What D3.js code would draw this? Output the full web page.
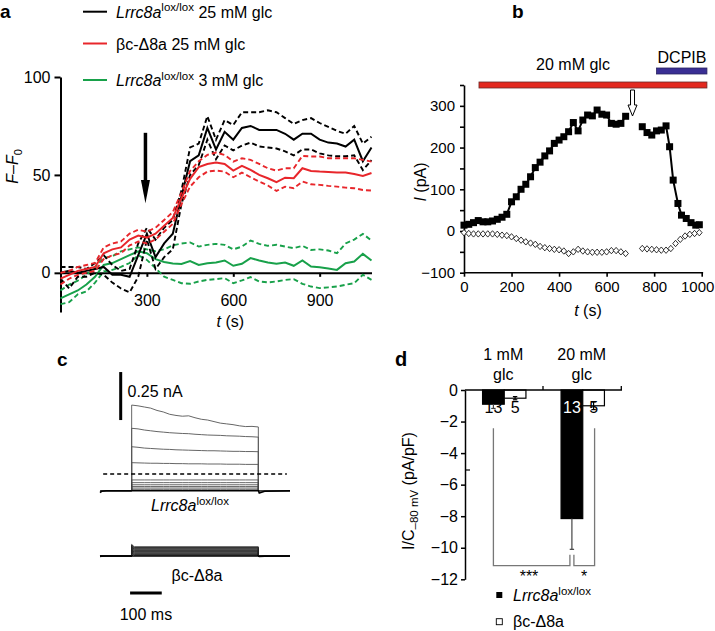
<!DOCTYPE html>
<html><head><meta charset="utf-8">
<script src="https://cdn.jsdelivr.net/npm/d3@7"></script>
<style>
body{margin:0;background:#fff}
svg text{font-family:"Liberation Sans",Arial,Helvetica,sans-serif;fill:#000}
</style></head><body>
<svg id="fig" width="715" height="631"></svg>
<script>
// ---------------- Panel a data ----------------
const timesA = [0,30,60,90,120,150,180,210,240,270,300,330,360,390,420,450,480,510,540,570,600,630,660,690,720,750,780,810,840,870,900,930,960,990,1020,1050,1080];
const blackMean = [0,1,0,1,2,3,-1,-1,-2,9,20,8,15,20,39,57,60,74,63,72,68,74,75,73,73,73,71,68,71,71,68,66.5,66,64.5,68,57,64];
const blackUpper = [3,3,3,2,5,9,4,1,2,15,23,17,23,27,42,64,66,80,68,78,75.5,82,82,82,83,82,79,76,78,79,76.5,74.5,72.5,71,75,66,69.5];
const blackLower = [-3,-8,-2,-2,0,-1,-5,-8,-10,-2,17,2,8,12,35,50,55,68,58,65,62.5,65,66.5,64.5,64,63.5,62,60,63,63,61,60,59.5,59.5,60,52.5,57.5];
const redMean = [-3,-1,1,2,3,10,12,13,17,19,18,20,24,28,38,48,54,55.6,56.3,55.6,52.2,54.6,52.6,50,48.3,46.3,48.6,48.3,53.4,52,51.7,51.5,51.2,51.2,50.5,49.5,51];
const redUpper = [0,1,3,4,5,13,15,16,20,22,21,23,27,31,41,52,57,60.2,61.4,60.2,56.8,58.5,57.7,55.6,53.4,52.2,53.4,53.4,59.7,59.4,59.4,58.5,58.5,58.5,58.5,57.7,56.8];
const redLower = [-6,-3,-1,0,1,7,9,10,14,16,15,17,21,25,35,44,48.8,51.7,52.2,51.7,48.8,51.2,48.8,46.6,44.6,41.8,44,43.2,46.6,45.2,44.9,44.4,44,43.5,43.2,42.3,42];
const greenMean = [-13,-11,-9,-6,-2,4,5,7,9,11,10,7,5.5,4.8,4.5,6,4,4.9,5.3,6.3,3.6,4.6,7.5,6.3,5.3,4.6,5.3,3.6,6.3,3.2,2.9,2.2,1.5,4.9,5.8,9.7,6.3];
const greenUpper = [-9,-6,-4,-1,3,7.5,8.5,11,12,13,12,11,12,14,15,15.5,13.4,14.3,14.8,14.3,12,13.4,16.5,14.8,13.8,14.3,13.4,12.6,13.8,11.7,12,11.4,10,15,17,19.9,16.5];
const greenLower = [-16,-15,-11,-9.5,-5,0.7,1.5,3,5,9,6.6,2.4,-2,-3.6,-5.3,-5.6,-4.4,-3.6,-3.2,-2.7,-5.3,-3.9,-2.2,-4.4,-4.9,-4.4,-3.6,-3.2,-5.6,-7,-7.8,-7.4,-7,-6.1,-5.3,-1,-3.6];
const ticksAy = [0,50,100];
const ticksAx = [300,600,900];
const arrowA = {t:295, top:71.5, headTop:47.4, tip:35.5};

// ---------------- Panel b data ----------------
const sqT1 = [0,20,40,60,80,100,120,140,160,180,200,220,240,260,280,300,320,340,360,380,400,420,440,460,480,500,520,540,560,580,600,620,640,660,680];
const sqV1 = [14,16,20,25,22,22,24,28,33,40,70,82,100,112,130,152,165,180,192,210,218,226,238,260,240,266,278,276,290,280,278,258,256,258,275];
const sqT2 = [750,770,790,810,830,850,865,880,900,915,935,955,975,990];
const sqV2 = [250,236,230,240,242,252,202,122,66,38,30,20,14,15];
const dmT1 = sqT1;
const dmV1 = [-4,-6,-7,-7,-7,-7,-7,-8,-10,-11,-14,-18,-22,-26,-29,-32,-37,-40,-42,-44,-45,-48,-54,-50,-44,-48,-50,-51,-51,-51,-50,-47,-47,-50,-54];
const dmT2 = [750,770,790,810,830,850,870,890,910,930,950,970,990];
const dmV2 = [-42,-43,-44,-45,-46,-46,-42,-30,-20,-12,-8,-6,-4];
const glcBar = [63, 1022];
const dcpibBar = [810, 1022];
const arrowBt = 709;
const ticksBy = [-100,-50,0,50,100,150,200,250,300,350];
const ticksBx = [0,200,400,600,800,1000];

// ---------------- Panel c data ----------------
const pulseT = [100,120,140,160,180,200,220,240,260,280,300,320,340,360,380,400,420,440,460,480,500];
const trace1 = [0.446,0.442,0.436,0.43,0.418,0.41,0.398,0.392,0.388,0.39,0.38,0.372,0.368,0.36,0.352,0.348,0.344,0.338,0.334,0.335,0.332];
const trace2 = [0.325,0.322,0.316,0.312,0.308,0.305,0.302,0.3,0.298,0.297,0.294,0.292,0.29,0.289,0.288,0.286,0.285,0.284,0.282,0.281,0.279];
const trace3 = [0.229,0.226,0.222,0.22,0.218,0.216,0.215,0.213,0.212,0.211,0.21,0.209,0.208,0.208,0.207,0.206,0.205,0.205,0.204,0.204,0.203];
const trace4 = [0.146,0.145,0.144,0.143,0.143,0.142,0.142,0.141,0.141,0.14,0.14,0.14,0.139,0.139,0.139,0.138,0.138,0.138,0.137,0.137,0.137];
const smallLevels = [0.056,0.042,0.031,0.022,0.014,0.007];
const koLevels = [0.048,0.044,0.040,0.036,0.032,0.028,0.024,0.020,0.016,0.012,0.008,0.004];
const baseT = [0,5,20,100,500,503,520,600];
const baseV = [-0.01,-0.003,0,0,0,-0.012,-0.003,0];
const dashLevel = 0.087;

// ---------------- Panel d data ----------------
const groupsD = ["1 mM glc","20 mM glc"];
const genotypes = ["Lrrc8a","bc"];
const meanLox = [-0.9,-8.15];
const errLox = [0.27,1.95];
const meanKO = [-0.52,-1.0];
const errKO = [0.1,0.24];
const nLox = [13,13];
const nKO = [5,5];
const ticksDy = [0,-2,-4,-6,-8,-10,-12];

const svg = d3.select("#fig");
const FONT = 16;
function styleAxis(g, fs, sw){
  g.attr("font-family", null).attr("font-size", fs);
  g.selectAll("path.domain").attr("stroke","#000").attr("stroke-width", sw);
  g.selectAll(".tick line").attr("stroke","#000").attr("stroke-width", sw);
  g.selectAll(".tick text").attr("fill","#000");
}
const fmtMinus = d => d < 0 ? "\u2212" + Math.abs(d) : String(d);

// ======== Panel a ========
const xA = d3.scaleLinear().domain([0,1080]).range([60.5,371.5]);
const yA = d3.scaleLinear().domain([-20,100]).range([312,77]);
const gA = svg.append("g");
const axAy = gA.append("g").attr("transform",`translate(${xA(0)},0)`)
  .call(d3.axisLeft(yA).tickValues(ticksAy).tickSize(6).tickPadding(4).tickSizeOuter(0));
styleAxis(axAy, FONT, 2);
const axAx = gA.append("g").attr("transform",`translate(0,${yA(0)})`)
  .call(d3.axisBottom(xA).tickValues(ticksAx).tickSize(4).tickSizeOuter(0));
styleAxis(axAx, FONT, 2);
axAx.selectAll(".tick text").attr("y", 22);

const lineA = d3.line().x((d,i)=>xA(timesA[i])).y(d=>yA(d));
const seriesA = [
  {m:greenMean,u:greenUpper,l:greenLower,c:"#18a14a"},
  {m:blackMean,u:blackUpper,l:blackLower,c:"#000"},
  {m:redMean,u:redUpper,l:redLower,c:"#e8262b"}
];
seriesA.forEach(s=>{
  [s.u,s.l].forEach(arr=>gA.append("path").attr("d",lineA(arr)).attr("fill","none")
     .attr("stroke",s.c).attr("stroke-width",1.9).attr("stroke-dasharray","5,3"));
  gA.append("path").attr("d",lineA(s.m)).attr("fill","none").attr("stroke",s.c).attr("stroke-width",2);
});
// arrow
{
  const x = xA(arrowA.t);
  gA.append("line").attr("x1",x).attr("x2",x).attr("y1",yA(arrowA.top)).attr("y2",yA(arrowA.headTop)+2)
    .attr("stroke","#000").attr("stroke-width",3.5);
  gA.append("path").attr("d",`M${x-4.5},${yA(arrowA.headTop)}L${x+4.5},${yA(arrowA.headTop)}L${x},${yA(arrowA.tip)}Z`).attr("fill","#000");
}
// legend
const legA = [
  {y:11.7,c:"#000",it:"Lrrc8a",sup:"lox/lox",rest:" 25 mM glc"},
  {y:43.5,c:"#e8262b",it:null,sup:null,rest:"\u03B2c-\u03948a 25 mM glc"},
  {y:80,c:"#18a14a",it:"Lrrc8a",sup:"lox/lox",rest:" 3 mM glc"}
];
legA.forEach(r=>{
  gA.append("line").attr("x1",83).attr("x2",107).attr("y1",r.y).attr("y2",r.y).attr("stroke",r.c).attr("stroke-width",2);
  const t = gA.append("text").attr("x",116).attr("y",r.y+6).attr("font-size",FONT);
  if(r.it){
    t.append("tspan").attr("font-style","italic").text(r.it);
    t.append("tspan").attr("font-size",11.5).attr("dy",-6.5).text(r.sup);
    t.append("tspan").attr("dy",6.5).text(r.rest);
  } else t.text(r.rest);
});
// axis labels
{
  const t = gA.append("text").attr("transform","translate(18,166.5) rotate(-90)").attr("text-anchor","middle").attr("font-size",FONT).attr("fill","#000");
  t.append("tspan").attr("font-style","italic").text("F");
  t.append("tspan").text("\u2013");
  t.append("tspan").attr("font-style","italic").text("F");
  t.append("tspan").attr("font-size",11).attr("dy",3.5).text("0");
  const tx = gA.append("text").attr("x",xA(590)).attr("y",327).attr("text-anchor","middle").attr("font-size",FONT);
  tx.append("tspan").attr("font-style","italic").text("t");
  tx.append("tspan").text(" (s)");
}
svg.append("text").attr("x",0).attr("y",18).attr("font-size",19).attr("font-weight","bold").text("a");

// ======== Panel b ========
const xB = d3.scaleLinear().domain([0,1000]).range([464,701.7]);
const yB = d3.scaleLinear().domain([-100,350]).range([272.7,85]);
const gB = svg.append("g");
const axBy = gB.append("g").attr("transform",`translate(${xB(0)},0)`)
  .call(d3.axisLeft(yB).tickValues(ticksBy).tickSize(4).tickPadding(5).tickSizeOuter(0)
     .tickFormat(d => (d % 100 === 0 && d <= 300) ? fmtMinus(d) : ""));
styleAxis(axBy, 15, 1.6);
const axBx = gB.append("g").attr("transform",`translate(0,${yB(-100)})`)
  .call(d3.axisBottom(xB).tickValues(ticksBx).tickSize(4).tickPadding(5).tickSizeOuter(0).tickFormat(d3.format("d")));
styleAxis(axBx, 15, 1.6);
axBx.select("path.domain").attr("d",`M${xB(0)},0H${xB(1006)}`);
axBx.selectAll(".tick text").filter(d=>d===1000).attr("dx",-4.5);

gB.append("rect").attr("x",xB(glcBar[0])).attr("width",xB(glcBar[1])-xB(glcBar[0])).attr("y",82).attr("height",6)
  .attr("fill","#e3281f").attr("stroke","#6a2a2a").attr("stroke-width",0.8);
gB.append("rect").attr("x",xB(dcpibBar[0])).attr("width",xB(dcpibBar[1])-xB(dcpibBar[0])).attr("y",68).attr("height",6)
  .attr("fill","#3a2f94").attr("stroke","#2a2360").attr("stroke-width",0.8);
gB.append("text").attr("x",573).attr("y",69.5).attr("text-anchor","middle").attr("font-size",FONT).text("20 mM glc");
gB.append("text").attr("x",682).attr("y",62.5).attr("text-anchor","middle").attr("font-size",FONT).text("DCPIB");
{
  const x = xB(arrowBt);
  gB.append("path").attr("d",`M${x-2},90L${x+2},90L${x+2},105L${x+4.5},105L${x},116L${x-4.5},105L${x-2},105Z`)
    .attr("fill","#fff").attr("stroke","#000").attr("stroke-width",1);
}
const lineB = d3.line().x(d=>xB(d[0])).y(d=>yB(d[1]));
[[sqT1,sqV1],[sqT2,sqV2]].forEach(([T,V])=>{
  const pts = T.map((t,i)=>[t,V[i]]);
  gB.append("path").attr("d",lineB(pts)).attr("fill","none").attr("stroke","#000").attr("stroke-width",2);
  gB.selectAll(null).data(pts).enter().append("rect")
    .attr("x",d=>xB(d[0])-3.5).attr("y",d=>yB(d[1])-3.5).attr("width",7).attr("height",7).attr("fill","#000");
});
[[dmT1,dmV1],[dmT2,dmV2]].forEach(([T,V])=>{
  const pts = T.map((t,i)=>[t,V[i]]);
  gB.selectAll(null).data(pts).enter().append("path")
    .attr("d",d=>{const x=xB(d[0]), y=yB(d[1]); return `M${x},${y-3.2}L${x+2.8},${y}L${x},${y+3.2}L${x-2.8},${y}Z`;})
    .attr("fill","#fff").attr("stroke","#000").attr("stroke-width",0.8);
});
{
  const t = gB.append("text").attr("transform","translate(426,182) rotate(-90)").attr("text-anchor","middle").attr("font-size",FONT);
  t.append("tspan").attr("font-style","italic").text("I");
  t.append("tspan").text(" (pA)");
  const tx = gB.append("text").attr("x",588).attr("y",316).attr("text-anchor","middle").attr("font-size",FONT);
  tx.append("tspan").attr("font-style","italic").text("t");
  tx.append("tspan").text(" (s)");
}
svg.append("text").attr("x",512).attr("y",18).attr("font-size",19).attr("font-weight","bold").text("b");

// ======== Panel c ========
const xC = d3.scaleLinear().domain([0,600]).range([100,290]);
const yC = d3.scaleLinear().domain([0,0.5]).range([490.7,394.7]);
const yC2 = d3.scaleLinear().domain([0,0.05]).range([556,546.4]);
const gC = svg.append("g");
const lineC = (ys) => d3.line().x(d=>xC(d[0])).y(d=>ys(d[1]));
function pulseTrace(vals){
  const pts = [[0,0],[100,0]];
  pulseT.forEach((t,i)=>pts.push([t,vals[i]]));
  pts.push([500,0],[600,0]);
  return pts;
}
[trace1,trace2,trace3,trace4].forEach(tr=>{
  gC.append("path").attr("d",lineC(yC)(pulseTrace(tr))).attr("fill","none").attr("stroke","#555").attr("stroke-width",0.9);
});
smallLevels.forEach(l=>{
  gC.append("path").attr("d",lineC(yC)(pulseTrace(pulseT.map(()=>l)))).attr("fill","none").attr("stroke","#444").attr("stroke-width",0.8);
});
gC.append("path").attr("d",lineC(yC)(baseT.map((t,i)=>[t,baseV[i]]))).attr("fill","none").attr("stroke","#000").attr("stroke-width",1.6);
gC.append("line").attr("x1",xC(10)).attr("x2",xC(590)).attr("y1",yC(dashLevel)).attr("y2",yC(dashLevel))
  .attr("stroke","#000").attr("stroke-width",1.5).attr("stroke-dasharray","4,3");
koLevels.forEach(l=>{
  const pts = [[0,0],[100,0],[100,l+0.012],[108,l],[500,l],[500,0],[600,0]];
  gC.append("path").attr("d",lineC(yC2)(pts)).attr("fill","none").attr("stroke","#222").attr("stroke-width",0.9);
});
gC.append("path").attr("d",lineC(yC2)(baseT.map((t,i)=>[t,baseV[i]*0.2]))).attr("fill","none").attr("stroke","#000").attr("stroke-width",1.6);
// scale bars
gC.append("line").attr("x1",120.7).attr("x2",120.7).attr("y1",yC(0.368)).attr("y2",yC(0.618)).attr("stroke","#000").attr("stroke-width",3);
gC.append("text").attr("x",127.5).attr("y",396.5).attr("font-size",FONT).text("0.25 nA");
gC.append("line").attr("x1",xC(95)).attr("x2",xC(195)).attr("y1",593).attr("y2",593).attr("stroke","#000").attr("stroke-width",3);
gC.append("text").attr("x",(xC(95)+xC(195))/2).attr("y",620).attr("text-anchor","middle").attr("font-size",FONT).text("100 ms");
{
  const t = gC.append("text").attr("x",190).attr("y",511).attr("text-anchor","middle").attr("font-size",FONT);
  t.append("tspan").attr("font-style","italic").text("Lrrc8a");
  t.append("tspan").attr("font-size",11.5).attr("dy",-6.5).text("lox/lox");
  gC.append("text").attr("x",197).attr("y",581).attr("text-anchor","middle").attr("font-size",FONT).text("\u03B2c-\u03948a");
}
svg.append("text").attr("x",57).attr("y",366).attr("font-size",19).attr("font-weight","bold").text("c");

// ======== Panel d ========
const yD = d3.scaleLinear().domain([-12,0]).range([579.3,390]);
const xD0 = d3.scaleBand().domain(groupsD).range([465,622]);
const xD1 = d3.scaleBand().domain(genotypes).range([0,xD0.bandwidth()]).paddingInner(0).paddingOuter(0.81);
const gD = svg.append("g");
const axDy = gD.append("g").attr("transform","translate(465,0)")
  .call(d3.axisLeft(yD).tickValues(ticksDy).tickSize(4).tickPadding(3).tickSizeOuter(0).tickFormat(fmtMinus));
styleAxis(axDy, FONT, 1.5);
gD.append("line").attr("x1",465).attr("x2",470).attr("y1",470).attr("y2",470).attr("stroke","#000").attr("stroke-width",1.2);
const barsData = [];
groupsD.forEach((g,i)=>{
  barsData.push({g, k:"Lrrc8a", v:meanLox[i], e:errLox[i], n:nLox[i]});
  barsData.push({g, k:"bc", v:meanKO[i], e:errKO[i], n:nKO[i]});
});
const bx = d => xD0(d.g)+xD1(d.k);
const bw = xD1.bandwidth();
gD.selectAll(null).data(barsData).enter().append("rect")
  .attr("x",bx).attr("width",bw).attr("y",yD(0)).attr("height",d=>yD(d.v)-yD(0))
  .attr("fill",d=>d.k==="Lrrc8a"?"#000":"#fff").attr("stroke","#000").attr("stroke-width",1.2);
barsData.forEach(d=>{
  const cx = bx(d)+bw/2;
  const isLox = d.k==="Lrrc8a";
  const col = isLox ? "#444" : "#000";
  const yStart = isLox ? yD(d.v) : yD(d.v+d.e);
  gD.append("line").attr("x1",cx).attr("x2",cx).attr("y1",yStart).attr("y2",yD(d.v-d.e)).attr("stroke",col).attr("stroke-width",1.2);
  gD.append("line").attr("x1",cx-2.2).attr("x2",cx+2.2).attr("y1",yD(d.v-d.e)).attr("y2",yD(d.v-d.e)).attr("stroke",col).attr("stroke-width",1.2);
  if(!isLox) gD.append("line").attr("x1",cx-2.2).attr("x2",cx+2.2).attr("y1",yD(d.v+d.e)).attr("y2",yD(d.v+d.e)).attr("stroke",col).attr("stroke-width",1.2);
  const white = isLox && d.v < -2;
  gD.append("text").attr("x",cx).attr("y",413).attr("text-anchor","middle").attr("font-size",FONT)
    .attr("fill",white?"#fff":"#000").style("fill",white?"#fff":"#000").text(d.n);
});
// x axis (top)
gD.append("path").attr("d",`M465,${yD(0)}H622`).attr("stroke","#000").attr("stroke-width",1.5).attr("fill","none");
[543,621.3].forEach(x=>gD.append("line").attr("x1",x).attr("x2",x).attr("y1",yD(0)).attr("y2",yD(0)-4).attr("stroke","#000").attr("stroke-width",1.3));
// group labels
groupsD.forEach(g=>{
  const cx = xD0(g)+xD0.bandwidth()/2;
  const parts = g.split(" glc");
  gD.append("text").attr("x",cx-1).attr("y",360).attr("text-anchor","middle").attr("font-size",FONT).text(parts[0]);
  gD.append("text").attr("x",cx-1).attr("y",380).attr("text-anchor","middle").attr("font-size",FONT).text("glc");
});
// significance brackets
{
  const c1 = bx(barsData[0])+bw/2, c3 = bx(barsData[2])+bw/2, c4 = bx(barsData[3])+bw/2;
  const yTop = yD(-2.43), yBot = yD(-11.13), yIn = yD(-10.45);
  gD.append("path").attr("d",`M${c1},${yTop}V${yBot}H${c3-2}V${yIn}`).attr("fill","none").attr("stroke","#777").attr("stroke-width",1.3);
  gD.append("path").attr("d",`M${c3+2},${yIn}V${yBot}H${c4+1}V${yTop}`).attr("fill","none").attr("stroke","#777").attr("stroke-width",1.3);
  gD.append("text").attr("x",529).attr("y",582).attr("text-anchor","middle").attr("font-size",FONT).text("***");
  gD.append("text").attr("x",584).attr("y",582).attr("text-anchor","middle").attr("font-size",FONT).text("*");
}
// y label
{
  const t = gD.append("text").attr("transform","translate(414,491) rotate(-90)").attr("text-anchor","middle").attr("font-size",FONT);
  t.append("tspan").text("I/C");
  t.append("tspan").attr("font-size",11.5).attr("dy",3.5).text("\u201380 mV");
  t.append("tspan").attr("dy",-3.5).text(" (pA/pF)");
}
// legend
gD.append("rect").attr("x",496.3).attr("y",592).attr("width",6).attr("height",6).attr("fill","#000");
{
  const t = gD.append("text").attr("x",513).attr("y",601).attr("font-size",FONT);
  t.append("tspan").attr("font-style","italic").text("Lrrc8a");
  t.append("tspan").attr("font-size",11.5).attr("dy",-6).text("lox/lox");
}
gD.append("rect").attr("x",496.3).attr("y",618.7).attr("width",6).attr("height",6).attr("fill","#fff").attr("stroke","#000").attr("stroke-width",0.9);
gD.append("text").attr("x",513).attr("y",627).attr("font-size",FONT).text("\u03B2c-\u03948a");
svg.append("text").attr("x",395).attr("y",366).attr("font-size",20).attr("font-weight","bold").text("d");
</script>
</body></html>
